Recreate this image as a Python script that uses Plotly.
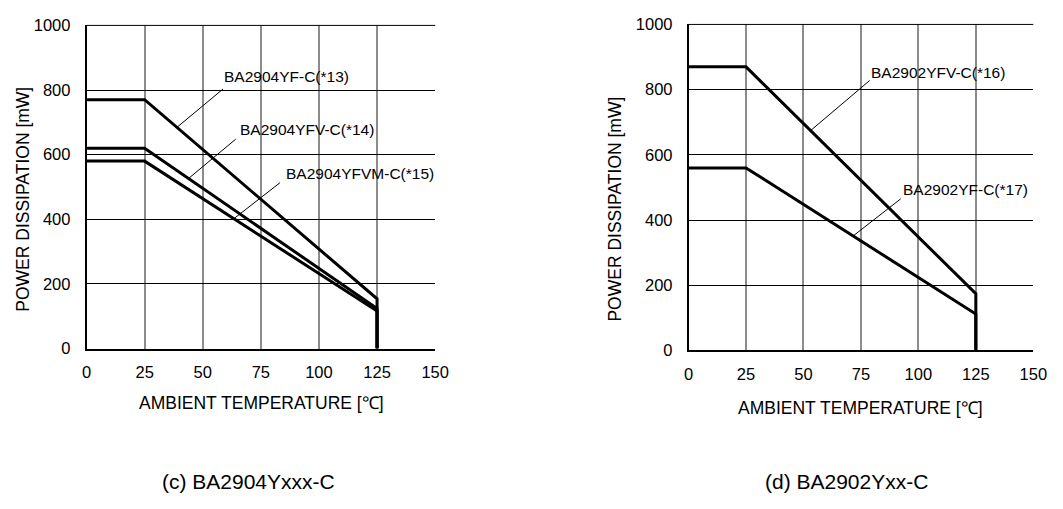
import numpy as np
import plotly.graph_objects as go

# ---------------- data ----------------
temp_pts = [0, 25, 125, 125]

# (c) BA2904Yxxx-C
yf_c13 = [770, 770, 154, 0]
yfv_c14 = [620, 620, 124, 0]
yfvm_c15 = [580, 580, 116, 0]
names_c = ["BA2904YF-C(*13)", "BA2904YFV-C(*14)", "BA2904YFVM-C(*15)"]

# (d) BA2902Yxx-C
yfv_c16 = [870, 870, 174, 0]
yf_c17 = [560, 560, 112, 0]
names_d = ["BA2902YFV-C(*16)", "BA2902YF-C(*17)"]

x_ticks = [0, 25, 50, 75, 100, 125, 150]
y_ticks = [0, 200, 400, 600, 800, 1000]

# leader-line geometry (label start, curve temperature)
lead_c_start = [(58.7, 803), (64.2, 648), (83.2, 513)]
lead_c_temp = [38.9, 43.9, 63.4]
text_c_pos = [(58.2, 842), (65.1, 678), (85.0, 543)]

lead_d_start = [(78.8, 828), (92.3, 465)]
lead_d_temp = [53.1, 71.6]
text_d_pos = [(78.3, 854), (92.4, 494)]

FONT = "Liberation Sans, Arial, sans-serif"
W, H = 1063, 509

fig = go.Figure()

def add_panel(series, names, xa, ya, lstart, ltemp, tpos):
    for s in series:
        fig.add_trace(go.Scatter(x=temp_pts, y=s, mode="lines",
                                 line=dict(color="black", width=3),
                                 xaxis=xa, yaxis=ya, showlegend=False,
                                 hoverinfo="skip"))
    for s, st, t, tp, nm in zip(series, lstart, ltemp, tpos, names):
        yc = float(np.interp(t, temp_pts[:3], s[:3]))
        fig.add_trace(go.Scatter(x=[st[0], t], y=[st[1], yc], mode="lines",
                                 line=dict(color="black", width=1),
                                 xaxis=xa, yaxis=ya, showlegend=False,
                                 hoverinfo="skip"))
        fig.add_annotation(x=tp[0], y=tp[1], xref=xa, yref=ya, text=nm,
                           showarrow=False, xanchor="left", yanchor="middle",
                           font=dict(family=FONT, size=15.5, color="black"))

add_panel([yf_c13, yfv_c14, yfvm_c15], names_c, "x", "y",
          lead_c_start, lead_c_temp, text_c_pos)
add_panel([yfv_c16, yf_c17], names_d, "x2", "y2",
          lead_d_start, lead_d_temp, text_d_pos)

xdoms = [[83 / W, 438 / W], [696 / W, 1047 / W]]
ydoms = [[(H - 352) / H, (H - 17) / H], [(H - 354) / H, (H - 16) / H]]

axis_font = dict(family=FONT, size=16.5, color="black")
xa_common = dict(range=[0, 150], tickvals=x_ticks, showgrid=True,
                 gridcolor="#8c8c8c", gridwidth=1.5, zeroline=False,
                 showline=True, linecolor="black", linewidth=1.5,
                 mirror=False, ticks="", tickfont=axis_font,
                 ticklabelstandoff=8, fixedrange=True)
ya_common = dict(range=[0, 1000], tickvals=y_ticks, showgrid=True,
                 gridcolor="black", gridwidth=1, zeroline=False,
                 showline=True, linecolor="black", linewidth=1.5,
                 ticks="", tickfont=axis_font, ticklabelstandoff=11,
                 fixedrange=True)

fig.update_layout(
    width=W, height=H, margin=dict(l=0, r=0, t=0, b=0),
    paper_bgcolor="white", plot_bgcolor="white",
    xaxis=dict(xa_common, domain=xdoms[0], anchor="y"),
    yaxis=dict(ya_common, domain=ydoms[0], anchor="x"),
    xaxis2=dict(xa_common, domain=xdoms[1], anchor="y2"),
    yaxis2=dict(ya_common, domain=ydoms[1], anchor="x2"),
    font=dict(family=FONT, color="black"),
)

# top frame line via shapes
for xr, yr in [("x domain", "y domain"), ("x2 domain", "y2 domain")]:
    fig.add_shape(type="line", xref=xr, yref=yr, x0=0, x1=1, y0=1, y1=1,
                  line=dict(color="black", width=1))

def paper_text(px, py, text, size, angle=0):
    fig.add_annotation(x=px / W, y=(H - py) / H, xref="paper", yref="paper",
                       text=text, textangle=angle, showarrow=False,
                       xanchor="center", yanchor="middle",
                       font=dict(family=FONT, size=size, color="black"))

# axis titles
paper_text(18, 197, "POWER DISSIPATION [mW]", 17.5, -90)
paper_text(621, 207, "POWER DISSIPATION [mW]", 17.5, -90)
paper_text(261, 408, "AMBIENT TEMPERATURE [℃]", 17.5)
paper_text(871, 414, "AMBIENT TEMPERATURE [℃]", 17.5)
# panel captions
paper_text(248, 490, "(c) BA2904Yxxx-C", 21)
paper_text(857, 490, "(d) BA2902Yxx-C", 21)

fig.write_html(
    "out.html",
    config={"displayModeBar": False},
    post_script="document.body.style.margin='0';"
                "document.body.style.overflow='hidden';"
                "document.documentElement.style.overflow='hidden';",
)
